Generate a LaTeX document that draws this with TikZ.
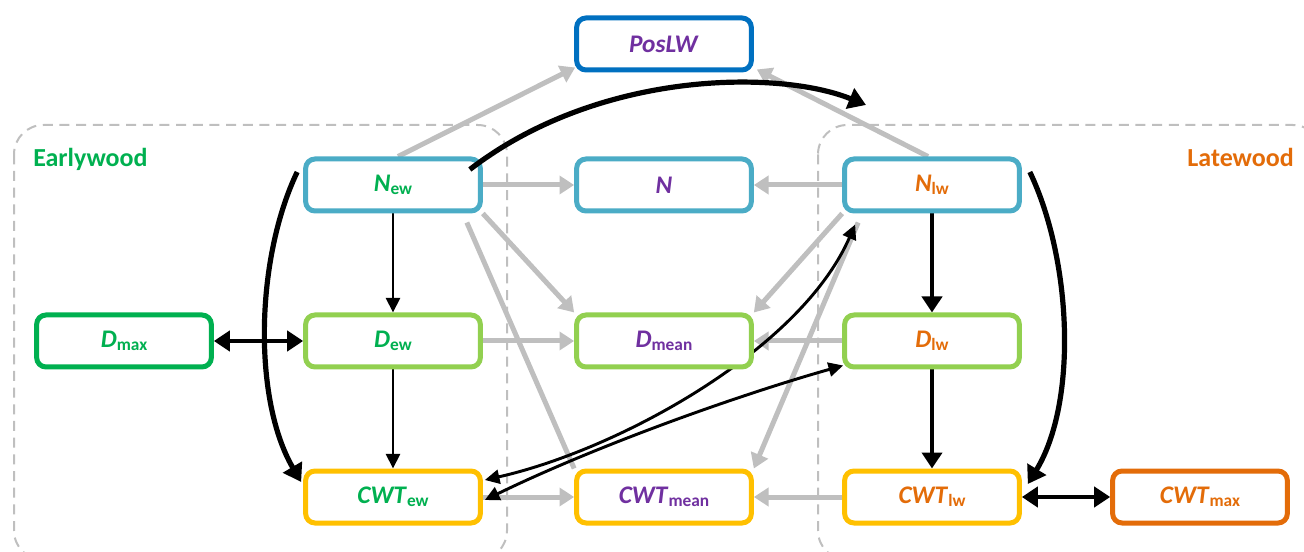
\documentclass[tikz,border=0pt]{standalone}
\usepackage{fontspec}
\setmainfont{Carlito}
\usetikzlibrary{arrows.meta,backgrounds}

\definecolor{boxN}{HTML}{4BACC6}
\definecolor{boxD}{HTML}{92D050}
\definecolor{boxC}{HTML}{FFC000}
\definecolor{boxPos}{HTML}{0070C0}
\definecolor{boxDmax}{HTML}{00B050}
\definecolor{boxCmax}{HTML}{E36C09}
\definecolor{txtE}{HTML}{00B050}
\definecolor{txtL}{HTML}{E36C09}
\definecolor{txtM}{HTML}{7030A0}
\definecolor{lgray}{HTML}{BFBFBF}

\newcommand{\varsub}[2]{\textit{#1}\raisebox{-2pt}{\fontsize{13}{13}\selectfont #2}}

\begin{document}
\begin{tikzpicture}[x=0.75pt,y=-0.75pt,
    var/.style={draw, rounded corners=7pt, line width=3.75pt, fill=white,
      minimum width=131pt, minimum height=39pt, inner sep=0pt,
      font=\bfseries\fontsize{19}{20}\selectfont},
    region/.style={draw=lgray, line width=1.5pt, dash pattern=on 7.5pt off 5pt, rounded corners=22pt},
    woodlabel/.style={font=\bfseries\fontsize{19.5}{20}\selectfont, inner sep=0pt},
    garrow/.style={draw=lgray, line width=3.75pt, -{Triangle[length=11pt,width=13.5pt]}},
    blkthin/.style={draw=black, line width=2.2pt, -{Triangle[length=11pt,width=10.5pt]}},
    blkthick/.style={draw=black, line width=3.4pt, -{Triangle[length=12pt,width=15pt]}},
    blkbig/.style={draw=black, line width=3.9pt, -{Triangle[length=13pt,width=16pt]}},
    blkboth/.style={draw=black, line width=3.4pt, {Triangle[length=12pt,width=15pt]}-{Triangle[length=12pt,width=15pt]}},
    blkthinboth/.style={draw=black, line width=2.2pt, {Triangle[length=11pt,width=10.5pt]}-{Triangle[length=11pt,width=10.5pt]}}]

    \useasboundingbox (0,0) rectangle (1304,552);

    % variables
    \node[var, draw=boxPos, text=txtM] (posLW) at (664,44) {\textit{PosLW}};

    \node[var, draw=boxN, text=txtE] (New) at (393,185) {\varsub{N}{ew}};
    \node[var, draw=boxN, text=txtM] (N) at (664,185) {\textit{N}};
    \node[var, draw=boxN, text=txtL] (Nlw) at (932,185) {\varsub{N}{lw}};

    \node[var, draw=boxDmax, text=txtE] (Dmax) at (124,341) {\varsub{D}{max}};
    \node[var, draw=boxD, text=txtE] (Dew) at (393,341) {\varsub{D}{ew}};
    \node[var, draw=boxD, text=txtM] (Dmean) at (664,341) {\varsub{D}{mean}};
    \node[var, draw=boxD, text=txtL] (Dlw) at (932,341) {\varsub{D}{lw}};

    \node[var, draw=boxC, text=txtE] (CWTew) at (393,497) {\varsub{CWT}{ew}};
    \node[var, draw=boxC, text=txtM] (CWTmean) at (664,497) {\varsub{CWT}{mean}};
    \node[var, draw=boxC, text=txtL] (CWTlw) at (932,497) {\varsub{CWT}{lw}};
    \node[var, draw=boxCmax, text=txtL] (CWTmax) at (1200,497) {\varsub{CWT}{max}};

    \node[woodlabel, text=txtE, anchor=base west] (early) at (33,167) {Earlywood};
    \node[woodlabel, text=txtL, anchor=base east] (late) at (1294,167) {Latewood};

    \coordinate (toptip) at (866,105);

    \begin{scope}[on background layer]
        % earlywood / latewood groups
        \draw[region] (14,125) rectangle (507,560);
        \draw[region] (818,125) rectangle (1322,560);

        % means and position
        \draw[garrow] ([shift={(5,0)}]New.north) -- ([shift={(1,-5)}]posLW.south west);
        \draw[garrow] ([shift={(-4,0)}]Nlw.north) -- ([shift={(3,-3)}]posLW.south east);
        \draw[garrow] (New) -- (N);
        \draw[garrow] (Nlw) -- (N);
        \draw[garrow] (New.south east) -- (Dmean.north west);
        \draw[garrow] (Nlw.south west) -- (Dmean.north east);
        \draw[garrow, -] ([shift={(-16,9)}]New.south east) -- (CWTmean.north west);
        \draw[garrow] ([shift={(16,9)}]Nlw.south west) -- (CWTmean.north east);
        \draw[garrow] (Dew) -- (Dmean);
        \draw[garrow] (Dlw) -- (Dmean);
        \draw[garrow] (CWTew) -- (CWTmean);
        \draw[garrow] (CWTlw) -- (CWTmean);

        % earlywood and latewood links
        \draw[blkthin] (New) -- (Dew);
        \draw[blkthin] (Dew) -- (CWTew);
        \draw[blkthick] (Nlw) -- (Dlw);
        \draw[blkthick] (Dlw) -- (CWTlw);
        \draw[blkboth] (Dmax) -- (Dew);
        \draw[blkboth] (CWTlw) -- (CWTmax);

        \draw[blkbig] ([shift={(-6,-13)}]New.west) .. controls +(-42,88) and +(-48,-82) .. ([shift={(-2,-15)}]CWTew.west);
        \draw[blkbig] ([shift={(8,-13)}]Nlw.east) .. controls +(42,88) and +(50,-82) .. ([shift={(6,-13)}]CWTlw.east);

        \draw[blkthinboth] ([shift={(2,-17)}]CWTew.east) .. controls +(133,-30) and +(-55,126) .. ([shift={(13,11)}]Nlw.south west);
        \draw[blkthinboth] ([shift={(2,3)}]CWTew.east) .. controls +(113,-55) and +(-103,29) .. ([shift={(1,-4)}]Dlw.south west);
    \end{scope}

    % earlywood count to latewood
    \draw[blkbig] ([shift={(-13,13)}]New.north east) .. controls +(130,-100) and +(-86,-35) .. (toptip);

\end{tikzpicture}
\end{document}
